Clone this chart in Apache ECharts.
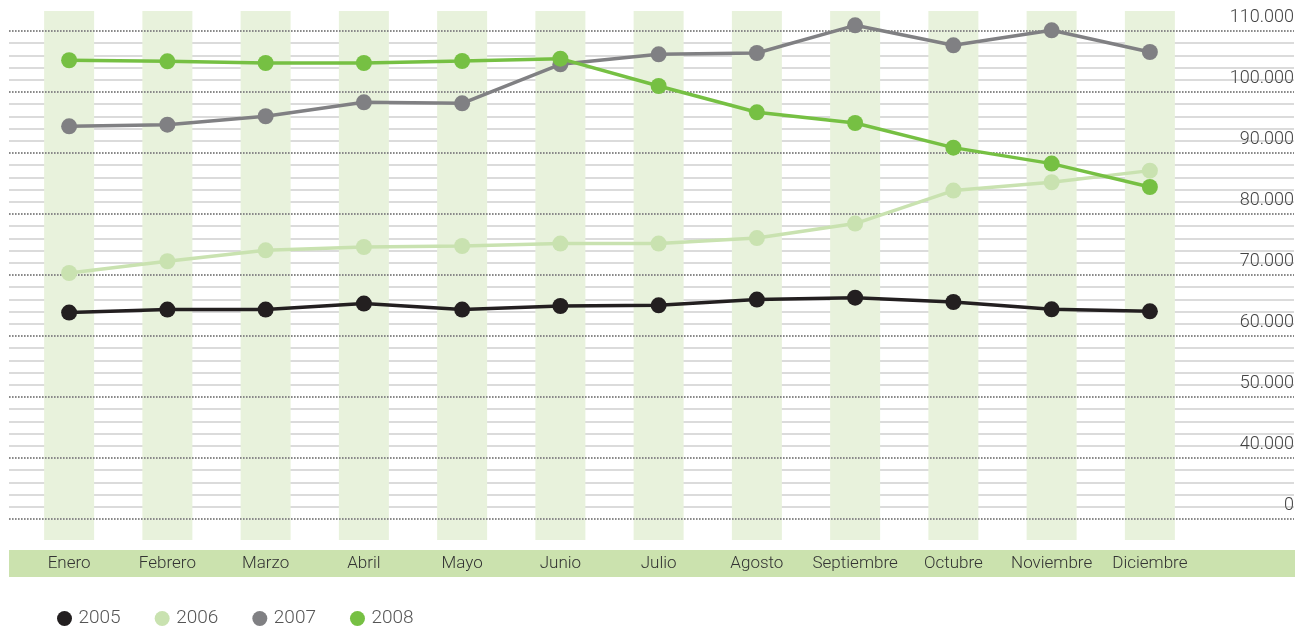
<!DOCTYPE html>
<html>
<head>
<meta charset="utf-8">
<script src="https://cdn.jsdelivr.net/npm/echarts@6/dist/echarts.min.js"></script>
<style>
  html, body { margin: 0; padding: 0; background: #fff; }
  #chart { width: 1303px; height: 630px; }
</style>
</head>
<body>
<div id="chart"></div>
<script>
// meses
const months = ['Enero', 'Febrero', 'Marzo', 'Abril', 'Mayo', 'Junio', 'Julio',
  'Agosto', 'Septiembre', 'Octubre', 'Noviembre', 'Diciembre']

// valores por año
const y2005 = [63840, 64330, 64330, 65310, 64330, 64920, 65030, 65970, 66290, 65570, 64380, 64050]
const y2006 = [70330, 72250, 74050, 74590, 74750, 75150, 75150, 76060, 78430, 83840, 85200, 87110]
const y2007 = [94380, 94650, 96020, 98310, 98150, 104540, 106180, 106390, 110930, 107650, 110110, 106560]
const y2008 = [105200, 105030, 104750, 104750, 105080, 105470, 100980, 96670, 94920, 90880, 88260, 84430]

const years = ['2005', '2006', '2007', '2008']
const colors = ['#231f20', '#c9e2b0', '#808083', '#76c043']

// eje y: la línea inferior se rotula "0"
const yMin = 30000
const yMax = 110000
const yStep = 10000

const fontFamily = 'Roboto, "Open Sans", sans-serif'

let chart = echarts.init(document.getElementById('chart'))

let lineSeries = [y2005, y2006, y2007, y2008].map((data, i) => ({
  name: years[i],
  type: 'line',
  xAxisIndex: 1,
  yAxisIndex: 2,
  z: 5,
  clip: false,
  data: data,
  symbol: 'circle',
  symbolSize: 16,
  lineStyle: { color: colors[i], width: 3.5 },
  itemStyle: { color: colors[i] },
  emphasis: { disabled: true }
}))

let option = {
  animation: false,
  color: colors,
  grid: [
    // líneas de fondo y etiquetas del eje y
    { left: 9, right: 9, top: 31, bottom: 111 },
    // series
    { left: 20, right: 104, top: 31, bottom: 111 },
    // columnas verdes
    { left: 20, right: 104, top: 11, bottom: 90 }
  ],
  graphic: [
    {
      type: 'rect',
      z: -1,
      shape: { x: 9, y: 550, width: 1286, height: 27 },
      style: { fill: '#cbe2ae' },
      silent: true
    }
  ],
  legend: {
    data: years,
    left: 52,
    top: 604,
    icon: 'circle',
    itemWidth: 18,
    itemHeight: 15,
    itemGap: 34,
    textStyle: { fontFamily: fontFamily, fontWeight: 300, fontSize: 19, color: '#555' }
  },
  xAxis: [
    { type: 'category', gridIndex: 0, data: months, show: false },
    {
      type: 'category',
      gridIndex: 1,
      data: months,
      boundaryGap: true,
      z: 4,
      axisLine: { show: false },
      axisTick: { show: false },
      axisLabel: {
        margin: 36,
        fontFamily: fontFamily,
        fontWeight: 300,
        fontSize: 17,
        color: '#333',
        interval: 0
      }
    },
    { type: 'category', gridIndex: 2, data: months, show: false }
  ],
  yAxis: [
    {
      // subdivisiones + etiquetas
      type: 'value',
      gridIndex: 0,
      position: 'right',
      min: yMin,
      max: yMax,
      interval: yStep,
      z: 0,
      axisLine: { show: false },
      axisTick: { show: false },
      splitLine: { show: false },
      minorTick: { show: false, splitNumber: 5 },
      minorSplitLine: { show: true, lineStyle: { color: '#d0d0d0', width: 1.5 } },
      axisLabel: {
        inside: true,
        margin: 0,
        verticalAlign: 'bottom',
        padding: [0, 0, 5, 0],
        fontFamily: fontFamily,
        fontWeight: 300,
        fontSize: 18,
        color: '#444',
        formatter: v => v === yMin ? '0' : (v / 1000) + '.000'
      }
    },
    {
      // líneas punteadas principales
      type: 'value',
      gridIndex: 0,
      position: 'right',
      min: yMin,
      max: yMax,
      interval: yStep,
      z: 3,
      axisLine: { show: false },
      axisTick: { show: false },
      axisLabel: { show: false },
      splitLine: { show: true, lineStyle: { color: '#8a8a8a', width: 2, type: [1.6, 1.4] } }
    },
    { type: 'value', gridIndex: 1, min: yMin, max: yMax, interval: yStep, show: false, splitLine: { show: false } },
    { type: 'value', gridIndex: 2, min: 0, max: 1, show: false, splitLine: { show: false } }
  ],
  series: [
    {
      type: 'bar',
      xAxisIndex: 2,
      yAxisIndex: 3,
      z: 1,
      silent: true,
      barWidth: 50,
      data: months.map(() => 1),
      itemStyle: { color: '#e8f2dc' }
    }
  ].concat(lineSeries)
}

chart.setOption(option)
</script>
</body>
</html>
